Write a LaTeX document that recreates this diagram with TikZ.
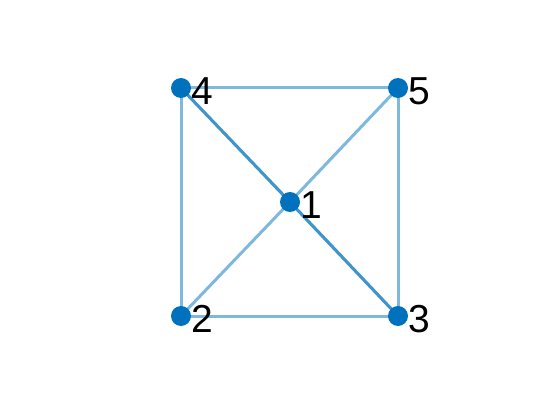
\documentclass[tikz,border=0pt]{standalone}
\usepackage{fontspec}
\setmainfont{Liberation Sans}
\definecolor{mblue}{RGB}{0,114,189}
\begin{document}
\begin{tikzpicture}[x=1pt,y=-1pt,
  vtx/.style={circle,fill=mblue,inner sep=0pt,minimum size=20pt},
  edge/.style={draw=mblue,draw opacity=0.5,line width=3pt},
  lbl/.style={anchor=west,inner sep=0pt,font=\fontsize{39}{39}\selectfont}]
\useasboundingbox (0,0) rectangle (560,420);
\fill[white] (0,0) rectangle (560,420);
\coordinate (n1) at (290,202);
\coordinate (n2) at (181,316);
\coordinate (n3) at (398,316);
\coordinate (n4) at (181,88);
\coordinate (n5) at (398,88);
\draw[edge] (n4) -- (n5);
\draw[edge] (n4) -- (n2);
\draw[edge] (n5) -- (n3);
\draw[edge] (n2) -- (n3);
\draw[edge] (n1) -- (n5);
\draw[edge] (n1) -- (n2);
\draw[edge] (n4) -- (n1);
\draw[edge] (n4) -- (n1);
\draw[edge] (n1) -- (n3);
\draw[edge] (n1) -- (n3);
\foreach \i in {1,...,5} {
  \node[vtx] (v\i) at (n\i) {};
  \node[lbl] (l\i) at ([xshift=10pt,yshift=-3pt]n\i) {\i};
}
\end{tikzpicture}
\end{document}
